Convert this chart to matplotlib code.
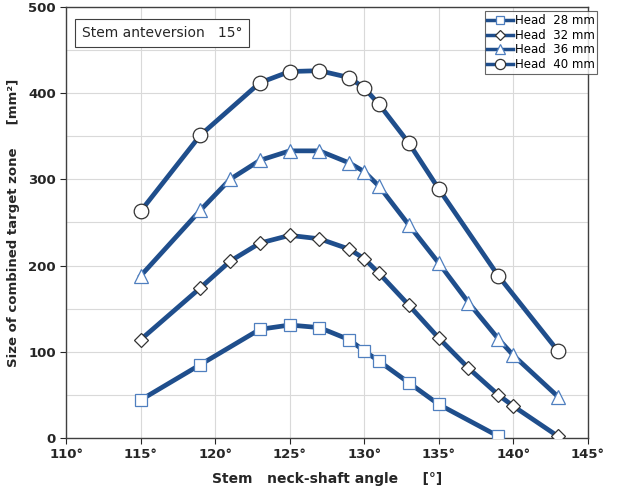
import numpy as np
import matplotlib.pyplot as plt

# angles (deg) and combined target zone sizes (mm^2)
ang_28 = [115, 119, 123, 125, 127, 129, 130, 131, 133, 135, 139]
head_28 = [44, 85, 126, 131, 128, 114, 101, 89, 64, 39, 2]

ang_32 = [115, 119, 121, 123, 125, 127, 129, 130, 131, 133, 135, 137, 139, 140, 143]
head_32 = [114, 174, 205, 226, 235, 231, 219, 208, 191, 154, 116, 81, 50, 37, 2]

ang_36 = [115, 119, 121, 123, 125, 127, 129, 130, 131, 133, 135, 137, 139, 140, 143]
head_36 = [188, 264, 300, 322, 333, 333, 319, 309, 292, 247, 203, 157, 115, 96, 48]

ang_40 = [115, 119, 123, 125, 127, 129, 130, 131, 133, 135, 139, 143]
head_40 = [263, 351, 412, 425, 426, 418, 406, 387, 342, 289, 188, 101]

x_ticks = [110, 115, 120, 125, 130, 135, 140, 145]
y_ticks = [0, 100, 200, 300, 400, 500]

LINE = '#1F4E8C'
TXT = '#262626'

fig = plt.figure(figsize=(6.18, 4.91), dpi=100)
ax = fig.add_axes([0.107, 0.108, 0.844, 0.878])

series = [
    (ang_28, head_28, 's', '#4F7FBF', 9, 'Head  28 mm'),
    (ang_32, head_32, 'D', '#333333', 7, 'Head  32 mm'),
    (ang_36, head_36, '^', '#4F7FBF', 10, 'Head  36 mm'),
    (ang_40, head_40, 'o', '#333333', 10.5, 'Head  40 mm'),
]
for xs, ys, mk, mec, ms, lab in series:
    ax.plot(xs, ys, color=LINE, lw=3.4, marker=mk, ms=ms, mfc='white',
            mec=mec, mew=0.9, label=lab, zorder=3)

ax.set_xlim(110, 145)
ax.set_ylim(0, 500)
ax.set_xticks(x_ticks)
ax.set_xticklabels([f'{t}°' for t in x_ticks])
ax.set_yticks(y_ticks)
ax.set_yticks(np.arange(0, 501, 50), minor=True)
ax.grid(True, which='both', color='#d9d9d9', lw=0.8, zorder=0)
ax.tick_params(axis='both', which='major', labelsize=9.5, colors=TXT,
               direction='out', length=4)
ax.tick_params(axis='y', which='minor', length=0)
for lbl in ax.get_xticklabels() + ax.get_yticklabels():
    lbl.set_fontweight('bold')
for s in ax.spines.values():
    s.set_color('#404040')
    s.set_linewidth(1.0)

ax.set_xlabel('Stem   neck-shaft angle     [°]', fontsize=10,
              fontweight='bold', color=TXT, labelpad=8)
ax.set_ylabel('Size of combined target zone     [mm²]', fontsize=9.5,
              fontweight='bold', color=TXT, labelpad=6)

ax.text(0.03, 0.955, 'Stem anteversion   15°', transform=ax.transAxes,
        fontsize=10, color=TXT, va='top', ha='left',
        bbox=dict(boxstyle='square,pad=0.5', fc='white', ec='#404040', lw=0.8),
        zorder=5)

leg = ax.legend(loc='upper right', fontsize=8.5, frameon=True, fancybox=False,
                edgecolor='#404040', handlelength=2.2, handletextpad=0.1,
                borderpad=0.25, labelspacing=0.12, markerscale=0.7,
                bbox_to_anchor=(1.03, 1.003))
leg.get_frame().set_linewidth(0.8)
for h in leg.get_lines():
    h.set_linewidth(2.5)

plt.savefig('out.png', dpi=100)
